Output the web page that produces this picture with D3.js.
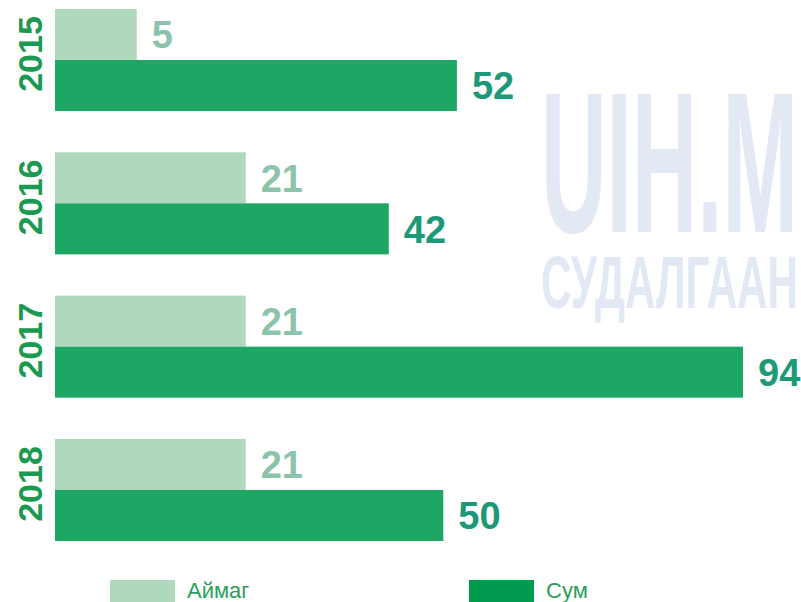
<!DOCTYPE html>
<html><head><meta charset="utf-8">
<script src="https://cdn.jsdelivr.net/npm/d3@7"></script>
<style>body{margin:0;background:#fff}svg{display:block}</style>
</head><body>
<script>
const years = ["2015", "2016", "2017", "2018"];
const series = ["Аймаг", "Сум"];
const aimagValues = [5, 21, 21, 21];
const sumValues = [52, 42, 94, 50];
const barColors = ["#b0d8bd", "#1ea664"];
const labelColors = ["#8cc4ab", "#1c9a78"];
const legendColors = ["#b0d8bd", "#009a4e"];

const W = 801, H = 602;
const svg = d3.select("body").append("svg").attr("width", W).attr("height", H);

// watermark (faint)
const wm = svg.append("g").attr("fill", "#e2e9f4").attr("font-family", "'Liberation Sans Narrow', 'Liberation Sans', sans-serif").attr("font-weight", "bold");
function fitText(txt, x0, base, size, x1) {
  const t = wm.append("text").attr("font-size", size).text(txt);
  const len = t.node().getComputedTextLength();
  t.attr("transform", `translate(${x0},${base}) scale(${(x1 - x0) / len},1)`);
}
fitText("UIH.M", 541, 232, 200, 798);
fitText("СУДАЛГААН", 541, 308, 74, 798);

const data = years.map((y, i) => ({ year: y, values: [aimagValues[i], sumValues[i]] }));

const x = d3.scaleLinear().domain([-7, 94]).range([55, 743]);
const y = d3.scaleBand().domain(years).range([9, 541]).paddingInner(0.288).paddingOuter(0);
const ySub = d3.scaleBand().domain(series).range([0, y.bandwidth()]).padding(0);

const g = svg.append("g");
const groups = g.selectAll("g.year").data(data).join("g")
  .attr("transform", d => `translate(0,${y(d.year)})`);

groups.selectAll("rect").data(d => d.values.map((v, i) => ({ v, s: series[i], i }))).join("rect")
  .attr("x", x(-7))
  .attr("y", d => ySub(d.s))
  .attr("width", d => x(d.v) - x(-7))
  .attr("height", ySub.bandwidth())
  .attr("fill", d => barColors[d.i]);

groups.selectAll("text.val").data(d => d.values.map((v, i) => ({ v, s: series[i], i }))).join("text")
  .attr("class", "val")
  .attr("x", d => x(d.v) + 15)
  .attr("y", d => ySub(d.s) + ySub.bandwidth() / 2)
  .attr("dy", "0.36em")
  .attr("font-family", "'Liberation Sans', Arial, sans-serif")
  .attr("font-weight", "bold")
  .attr("font-size", 38)
  .attr("fill", d => labelColors[d.i])
  .text(d => d.v);

// year labels
groups.append("text")
  .attr("transform", `translate(30,${y.bandwidth() / 2 - 6}) rotate(-90)`)
  .attr("text-anchor", "middle")
  .attr("dy", "0.36em")
  .attr("font-family", "'Liberation Sans', Arial, sans-serif")
  .attr("font-weight", "bold")
  .attr("font-size", 34)
  .attr("fill", "#1a9a50")
  .text(d => d.year);

// legend
const legendX = [110, 469];
const leg = svg.selectAll("g.leg").data(series).join("g").attr("class", "leg")
  .attr("transform", (d, i) => `translate(${legendX[i]},580)`);
leg.append("rect").attr("width", 65).attr("height", 22).attr("fill", (d, i) => legendColors[i]);
leg.append("text").attr("x", 77).attr("y", 18)
  .attr("font-family", "'Liberation Sans Narrow', 'Liberation Sans', sans-serif")
  .attr("font-size", 22).attr("fill", "#2aa05a")
  .text(d => d);
</script>
</body></html>
